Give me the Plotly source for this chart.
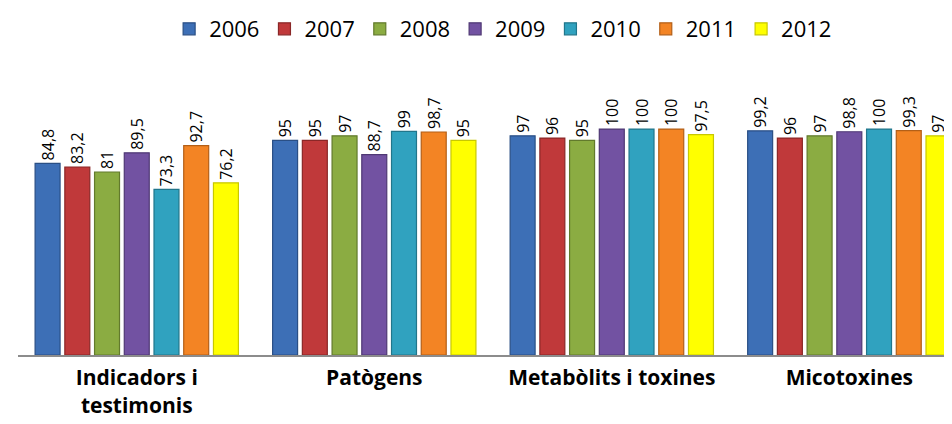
import plotly.graph_objects as go

categories = ['Indicadors i<br>testimonis', 'Patògens', 'Metabòlits i toxines', 'Micotoxines']
years = ['2006', '2007', '2008', '2009', '2010', '2011', '2012']

values = {
    '2006': [84.8, 95, 97, 99.2],
    '2007': [83.2, 95, 96, 96],
    '2008': [81, 97, 95, 97],
    '2009': [89.5, 88.7, 100, 98.8],
    '2010': [73.3, 99, 100, 100],
    '2011': [92.7, 98.7, 100, 99.3],
    '2012': [76.2, 95, 97.5, 97],
}

fills = {'2006': '#3d6fb6', '2007': '#c0393a', '2008': '#8bac42', '2009': '#7252a2',
         '2010': '#30a2bf', '2011': '#f38424', '2012': '#ffff00'}
edges = {'2006': '#2a4f85', '2007': '#8a2727', '2008': '#627a2c', '2009': '#4f3874',
         '2010': '#21768b', '2011': '#b35f17', '2012': '#c8c800'}

fig = go.Figure()
for yr in years:
    vals = values[yr]
    fig.add_trace(go.Bar(
        name=yr, x=categories, y=vals,
        marker=dict(color=fills[yr], line=dict(color=edges[yr], width=1.2)),
        text=[f'{v:g}'.replace('.', ',') for v in vals],
        textposition='outside', textangle=-90, cliponaxis=False,
        constraintext='none',
        textfont=dict(family='Open Sans', size=16, color='black'),
    ))

fig.update_layout(
    width=952, height=424,
    margin=dict(l=10, r=0, t=91, b=77),
    paper_bgcolor='white', plot_bgcolor='white',
    barmode='group', bargap=0.124, bargroupgap=0.16,
    font=dict(family='Open Sans', color='black'),
    legend=dict(orientation='h', x=0.515, xanchor='center', y=1.0, yref='container',
                yanchor='top', font=dict(size=22), itemwidth=30, traceorder='normal'),
)
fig.update_xaxes(showline=True, linecolor='#8c8c8c', linewidth=2, ticks='',
                 range=[-0.5, 3.466],
                 tickfont=dict(family='Open Sans', size=21, color='black', weight='bold'),
                 ticklabelstandoff=3)
fig.update_yaxes(visible=False, range=[0, 113.3])

fig.write_html("out.html")
